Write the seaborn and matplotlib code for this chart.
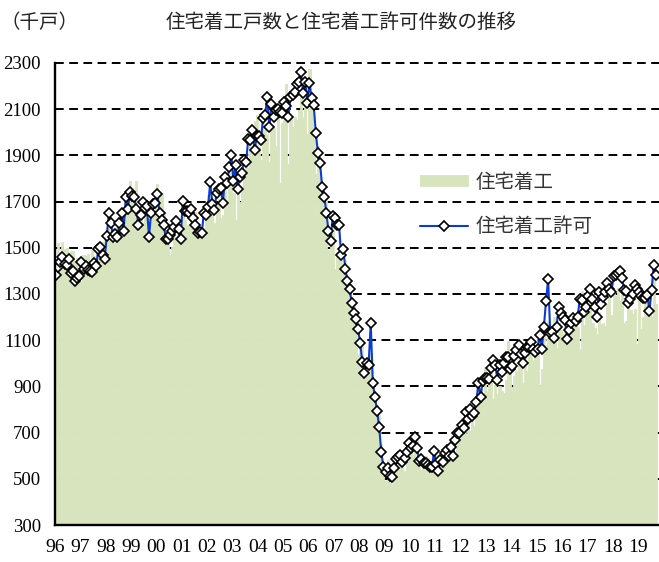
import matplotlib
matplotlib.use("Agg")
import matplotlib.pyplot as plt
import numpy as np
import pandas as pd
import seaborn as sns

# monthly, thousand units, Jan 1996 - Sep 2019
starts = [
    1367, 1522, 1416, 1526, 1494, 1498, 1476, 1484, 1488, 1444, 1455, 1358,
    1350, 1470, 1465, 1471, 1421, 1491, 1464, 1423, 1498, 1487, 1525, 1566,
    1523, 1649, 1610, 1585, 1576, 1593, 1665, 1657, 1585, 1650, 1682, 1791,
    1761, 1741, 1788, 1567, 1625, 1609, 1681, 1679, 1623, 1627, 1657, 1678,
    1775, 1731, 1737, 1647, 1571, 1602, 1467, 1505, 1547, 1535, 1566, 1572,
    1663, 1622, 1600, 1594, 1616, 1619, 1655, 1572, 1585, 1574, 1584, 1650,
    1727, 1734, 1671, 1608, 1686, 1711, 1630, 1644, 1805, 1709, 1757, 1841,
    1737, 1620, 1774, 1697, 1749, 1836, 1895, 1845, 1949, 1976, 2050, 2077,
    1936, 1882, 2079, 2010, 1992, 1870, 2011, 2018, 1942, 2074, 1782, 2042,
    2144, 2207, 1864, 2061, 2025, 2068, 2054, 2095, 2151, 2065, 2147, 1994,
    2273, 2119, 1969, 1821, 1942, 1802, 1737, 1650, 1720, 1491, 1570, 1649,
    1409, 1480, 1495, 1490, 1415, 1448, 1354, 1330, 1183, 1264, 1197, 1037,
    1084, 1103, 1005, 1013, 973, 1046, 923, 844, 820, 777, 652, 560,
    490, 582, 505, 478, 540, 585, 594, 586, 585, 534, 588, 581,
    614, 604, 636, 687, 583, 536, 546, 599, 592, 533, 545, 539,
    630, 517, 600, 554, 561, 608, 623, 585, 650, 610, 711, 694,
    723, 704, 695, 753, 708, 757, 728, 770, 863, 888, 837, 986,
    882, 974, 1000, 847, 904, 866, 902, 880, 870, 926, 1096, 1003,
    897, 946, 968, 1061, 998, 915, 1085, 968, 1038, 1078, 1015, 1080,
    1094, 904, 976, 1166, 1081, 1185, 1143, 1127, 1201, 1066, 1173, 1146,
    1125, 1196, 1114, 1165, 1149, 1190, 1213, 1157, 1063, 1312, 1164, 1261,
    1239, 1289, 1174, 1154, 1126, 1220, 1169, 1176, 1162, 1256, 1299, 1209,
    1322, 1290, 1327, 1270, 1336, 1176, 1182, 1279, 1230, 1215, 1236, 1084,
    1291, 1149, 1199, 1270, 1265, 1241, 1202, 1386, 1256,
]

permits = [
    1382, 1417, 1439, 1460, 1430, 1425, 1451, 1390, 1400, 1356, 1370, 1378,
    1439, 1410, 1421, 1405, 1400, 1395, 1434, 1420, 1495, 1504, 1470, 1451,
    1551, 1651, 1607, 1547, 1560, 1547, 1607, 1651, 1573, 1720, 1668, 1742,
    1724, 1720, 1668, 1599, 1642, 1699, 1672, 1680, 1547, 1651, 1690, 1694,
    1733, 1651, 1620, 1599, 1538, 1538, 1556, 1573, 1590, 1616, 1580, 1538,
    1703, 1660, 1660, 1650, 1668, 1629, 1599, 1564, 1570, 1564, 1651, 1640,
    1677, 1785, 1690, 1664, 1737, 1755, 1758, 1694, 1807, 1780, 1850, 1900,
    1790, 1858, 1755, 1807, 1824, 1880, 1871, 1971, 1967, 2010, 1923, 1984,
    1984, 1967, 2062, 2075, 2153, 2023, 2122, 2066, 2097, 2100, 2090, 2083,
    2131, 2114, 2066, 2153, 2160, 2174, 2209, 2218, 2261, 2170, 2218, 2127,
    2213, 2148, 2118, 1997, 1910, 1867, 1763, 1720, 1651, 1573, 1530, 1638,
    1629, 1599, 1599, 1469, 1495, 1408, 1356, 1322, 1261, 1218, 1192, 1148,
    1088, 1006, 958, 1002, 993, 1175, 915, 854, 794, 724, 616, 551,
    530, 547, 513, 508, 547, 586, 595, 603, 573, 590, 616, 655,
    634, 640, 681, 634, 575, 586, 568, 568, 560, 551, 551, 620,
    563, 534, 582, 573, 612, 625, 600, 638, 600, 668, 700, 698,
    733, 720, 790, 760, 803, 770, 785, 832, 915, 854, 923, 936,
    936, 932, 980, 1014, 993, 928, 993, 963, 1000, 1028, 1028, 976,
    990, 1032, 1058, 1080, 1040, 1002, 1045, 1071, 1071, 1093, 1060, 1049,
    1062, 1123, 1062, 1158, 1270, 1365, 1132, 1136, 1110, 1158, 1244, 1218,
    1200, 1188, 1106, 1145, 1175, 1196, 1183, 1201, 1279, 1274, 1220, 1244,
    1290, 1322, 1279, 1244, 1201, 1309, 1257, 1285, 1309, 1348, 1320, 1309,
    1378, 1382, 1390, 1400, 1369, 1317, 1313, 1261, 1279, 1300, 1339, 1320,
    1309, 1291, 1283, 1283, 1296, 1226, 1317, 1425, 1382,
]

year_labels = ["96", "97", "98", "99", "00", "01", "02", "03", "04", "05", "06", "07",
               "08", "09", "10", "11", "12", "13", "14", "15", "16", "17", "18", "19"]
y_ticks = [300, 500, 700, 900, 1100, 1300, 1500, 1700, 1900, 2100, 2300]

df = pd.DataFrame({"month": np.arange(len(starts)), "starts": starts, "permits": permits})

sns.set_style("white")
plt.rcParams["font.family"] = ["Noto Sans CJK JP", "DejaVu Sans"]

fig = plt.figure(figsize=(6.59, 5.62), dpi=100)
ax = fig.add_axes([55 / 659, 37 / 562, 604 / 659, 462 / 562])

sns.barplot(data=df, x="month", y="starts", native_scale=True, width=1.0,
            color="#D7E4BD", saturation=1, linewidth=0.6, edgecolor="#D7E4BD",
            errorbar=None, label="住宅着工", ax=ax)
sns.lineplot(data=df, x="month", y="permits", color="#0A3CD2", linewidth=1.5,
             marker="D", markersize=5.5, markerfacecolor="white",
             markeredgecolor="black", markeredgewidth=1.2,
             label="住宅着工許可", ax=ax, zorder=3)

ax.set_xlim(-0.5, 285.5)
ax.set_ylim(300, 2300)
ax.set_xticks(np.arange(0, len(year_labels) * 12, 12) - 0.5)
ax.set_xticklabels(year_labels, fontfamily="Liberation Serif", fontsize=14)
ax.set_yticks(y_ticks)
ax.set_yticklabels([str(v) for v in y_ticks], fontfamily="Liberation Serif", fontsize=13.5)
ax.set_xlabel("")
ax.set_ylabel("")

ax.set_axisbelow(True)
ax.yaxis.grid(True, color="black", linestyle=(0, (4.5, 2.8)), linewidth=1.4)
for gl in ax.get_ygridlines():
    gl.set_clip_on(False)

ax.tick_params(axis="both", direction="in", length=4, width=1.4, colors="black")
ax.tick_params(axis="x", pad=10)
ax.tick_params(axis="y", pad=10)
for side in ["top", "right"]:
    ax.spines[side].set_visible(False)
for side in ["left", "bottom"]:
    ax.spines[side].set_color("black")
    ax.spines[side].set_linewidth(1.7)
    ax.spines[side].set_zorder(4)

handles, labels = ax.get_legend_handles_labels()
order = [labels.index("住宅着工"), labels.index("住宅着工許可")]
leg = ax.legend([handles[i] for i in order], [labels[i] for i in order],
                loc="center left", bbox_to_anchor=(0.604, 0.694), frameon=False,
                fontsize=14, handlelength=2.5, handleheight=0.5, handletextpad=0.35,
                labelspacing=1.2, borderpad=0, borderaxespad=0)
for t in leg.get_texts():
    t.set_color("#333333")

fig.text(341.5 / 659, 1 - 22 / 562, "住宅着工戸数と住宅着工許可件数の推移",
         ha="center", va="center", fontsize=14, color="#222222")
fig.text(0.0, 1 - 22 / 562, "（千戸）", ha="left", va="center", fontsize=14, color="#222222")

fig.savefig("out.png", dpi=100)
plt.close(fig)
